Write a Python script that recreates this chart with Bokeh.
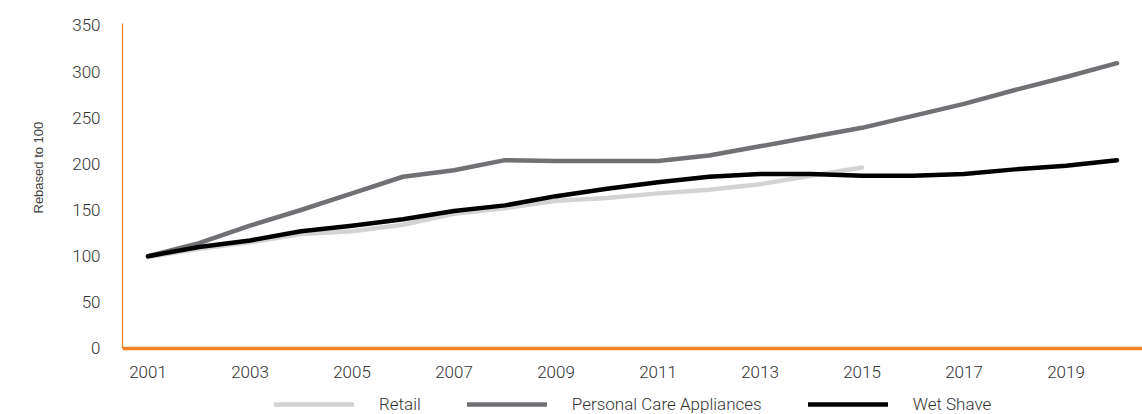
from bokeh.plotting import figure
from bokeh.models import Range1d, FixedTicker, Legend, LegendItem, Title
from bokeh.embed import file_html
from bokeh.resources import INLINE

years = list(range(2001, 2021))
retail_years = list(range(2001, 2016))
retail = [99, 108, 115, 124, 127, 134, 146, 152, 160, 163, 168, 172, 178, 187, 196]
pca = [100, 114, 133, 150, 168, 186, 193, 204, 203, 203, 203, 209, 219, 229, 239, 252, 265, 280, 294, 309]
wet_shave = [100, 110, 117, 127, 133, 140, 149, 155, 165, 173, 180, 186, 189, 189, 187, 187, 189, 194, 198, 204]
x_ticks = [2001, 2003, 2005, 2007, 2009, 2011, 2013, 2015, 2017, 2019]
y_ticks = [0, 50, 100, 150, 200, 250, 300, 350]

FONT = "Roboto Light, Roboto"
ORANGE = "#F28123"

p = figure(width=1142, height=414, output_backend="svg", toolbar_location=None,
           x_range=Range1d(2000.5, 2020.5), y_range=Range1d(-71.5, 352),
           min_border_left=122, min_border_right=0, min_border_top=23, min_border_bottom=0)
p.outline_line_color = None
p.xgrid.visible = False
p.ygrid.visible = False

r_retail = p.line(retail_years, retail, line_color="#D3D3D5", line_width=4.5, line_cap="round", line_join="round")
r_pca = p.line(years, pca, line_color="#717175", line_width=4.5, line_cap="round", line_join="round")
r_wet = p.line(years, wet_shave, line_color="#000000", line_width=4.5, line_cap="round", line_join="round")

xa = p.xaxis[0]
xa.fixed_location = 0
xa.ticker = FixedTicker(ticks=x_ticks)
xa.axis_line_color = ORANGE
xa.axis_line_width = 3.5
xa.major_tick_line_color = None
xa.minor_tick_line_color = None
xa.major_label_text_font = FONT
xa.major_label_text_font_size = "17px"
xa.major_label_text_color = "#333333"
xa.major_label_standoff = 12

ya = p.yaxis[0]
ya.bounds = (0, 352)
ya.ticker = FixedTicker(ticks=y_ticks)
ya.axis_line_color = ORANGE
ya.axis_line_width = 1.2
ya.major_tick_line_color = None
ya.minor_tick_line_color = None
ya.major_label_text_font = FONT
ya.major_label_text_font_size = "17px"
ya.major_label_text_color = "#333333"
ya.major_label_standoff = 16

ylabel = Title(text="Rebased to 100", align="left", offset=201, standoff=48,
               text_font="Liberation Sans", text_font_style="normal",
               text_font_size="13px", text_color="#444444")
p.add_layout(ylabel, "left")

legend = Legend(items=[
    LegendItem(label="Retail", renderers=[r_retail]),
    LegendItem(label="Personal Care Appliances", renderers=[r_pca]),
    LegendItem(label="Wet Shave", renderers=[r_wet]),
], orientation="horizontal", location=(152, 0))
legend.glyph_width = 80
legend.glyph_height = 20
legend.label_standoff = 25
legend.spacing = 46
legend.padding = 0
legend.margin = 0
legend.border_line_color = None
legend.background_fill_alpha = 0
legend.label_text_font = FONT
legend.label_text_font_size = "17px"
legend.label_text_color = "#333333"
p.add_layout(legend, "center")

open("out.html", "w").write(file_html(p, INLINE))
